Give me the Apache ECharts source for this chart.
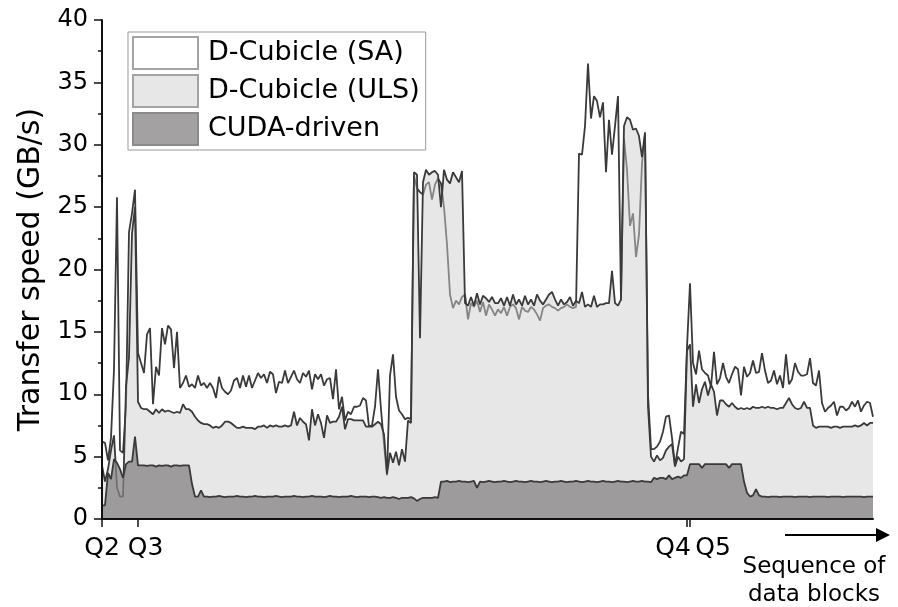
<!DOCTYPE html>
<html>
<head>
<meta charset="utf-8">
<script src="https://cdn.jsdelivr.net/npm/echarts@6/dist/echarts.min.js"></script>
<style>
html, body { margin: 0; padding: 0; background: #fff; }
#chart { width: 898px; height: 607px; }
</style>
</head>
<body>
<div id="chart"></div>
<script>
// ---- data (transfer speed in GB/s, one value per data block) ----
const saSpeed = [
  6.2,6.1,4.7,6.5,12.0,25.8,5.5,5.3,9.0,23.0,
  24.5,26.4,13.3,12.5,11.7,14.8,15.3,9.2,12.2,11.5,
  15.3,14.0,15.5,15.2,12.1,15.0,10.5,10.9,11.5,10.6,
  10.8,10.5,11.5,10.7,10.9,10.5,10.9,10.5,9.7,11.4,
  10.5,10.2,10.0,10.3,11.1,11.3,10.5,11.5,10.6,11.5,
  10.5,11.1,11.7,11.3,11.6,10.9,11.8,11.6,10.1,11.0,
  10.9,11.9,10.9,11.4,11.9,11.2,10.9,11.7,11.4,11.9,
  10.4,11.6,11.2,11.6,10.7,11.2,11.3,9.6,12.0,8.8,
  9.8,7.9,8.6,8.4,9.0,9.0,9.1,9.7,9.5,7.4,
  7.5,9.0,12.0,8.8,6.0,3.5,11.5,13.2,9.8,8.7,
  8.4,8.0,8.1,8.0,27.5,26.5,26.2,26.0,26.8,27.0,
  25.6,26.8,27.3,26.9,25.0,22.0,18.0,16.9,17.5,17.2,
  17.8,18.0,16.0,17.3,17.0,17.5,16.6,17.4,16.3,17.2,
  16.8,16.3,16.8,16.5,17.0,16.3,17.0,17.2,16.9,16.0,
  17.0,16.7,16.6,17.0,16.8,16.4,15.9,16.9,17.1,17.2,
  17.0,16.9,16.7,16.9,17.0,17.2,17.0,16.9,17.0,29.3,
  29.2,31.5,36.5,32.1,33.9,33.5,32.2,33.4,27.8,32.0,
  29.2,31.5,33.9,17.5,30.5,28.0,23.5,24.5,21.0,22.8,
  28.5,30.8,10.0,5.6,5.6,5.8,6.2,7.0,8.2,8.3,
  6.5,4.3,5.7,7.0,6.8,13.8,18.9,12.5,11.6,13.5,
  12.0,11.7,11.5,10.6,13.4,10.8,11.3,12.5,11.4,10.9,
  11.6,12.2,12.0,9.9,12.2,11.4,11.7,12.7,11.7,11.8,
  13.3,11.9,10.9,11.1,11.9,10.8,11.5,10.5,13.2,10.8,
  11.2,12.5,11.8,11.5,11.5,11.6,12.9,10.9,10.7,11.9,
  9.3,8.6,8.9,9.1,9.4,8.3,9.0,9.0,8.7,8.9,
  9.4,9.0,9.5,8.6,9.1,9.4,9.3,8.2
];
const ulsSpeed = [
  4.3,3.0,4.0,5.5,6.7,2.5,1.8,1.8,10.6,13.0,
  22.9,25.0,9.4,8.9,8.8,8.8,8.6,8.4,8.8,8.5,
  8.8,8.6,8.7,8.6,8.5,8.6,8.5,9.2,8.8,8.8,
  8.6,8.2,7.9,7.7,7.6,7.6,7.5,7.3,7.4,7.3,
  7.5,7.8,7.8,7.7,7.5,7.3,7.3,7.4,7.3,7.3,
  7.3,7.2,7.4,7.4,7.5,7.3,7.5,7.4,7.5,7.4,
  7.4,7.5,7.4,7.5,8.6,7.5,8.1,7.8,7.6,6.3,
  8.8,7.5,8.4,7.7,6.5,8.3,7.7,7.8,7.8,8.2,
  9.0,7.2,8.0,8.0,7.9,7.9,7.9,7.9,7.4,7.4,
  7.4,7.6,7.8,7.6,6.8,3.6,5.3,4.5,5.4,4.3,
  5.6,4.6,7.9,7.7,27.8,27.6,14.5,27.0,28.0,27.6,
  27.8,27.9,27.6,25.0,28.0,27.2,26.9,27.8,27.4,27.0,
  27.9,17.3,17.1,17.8,17.1,18.1,17.2,17.9,17.7,17.4,
  17.8,17.3,17.3,17.7,17.1,17.8,17.1,18.0,17.2,17.6,
  17.1,17.9,17.2,17.6,17.1,18.0,17.5,17.2,17.6,18.0,
  18.2,17.6,17.1,17.6,17.2,17.4,17.8,17.1,17.5,17.3,
  18.2,17.0,17.2,17.0,17.9,17.0,17.2,17.2,17.3,17.3,
  19.9,17.3,17.1,17.6,31.5,32.2,32.0,31.2,31.3,30.7,
  29.0,31.0,9.0,5.0,4.6,5.1,4.7,4.9,5.5,5.8,
  6.0,4.2,5.0,4.6,4.8,13.5,14.0,9.0,10.8,9.3,
  10.4,11.0,9.9,10.8,10.2,8.3,9.5,9.5,9.2,9.0,
  9.3,9.0,8.8,8.9,8.8,8.9,8.8,9.0,8.9,8.9,
  9.0,8.9,9.0,8.9,8.9,8.8,8.9,8.9,9.3,9.7,
  9.2,8.9,8.8,8.9,9.4,8.9,8.9,7.5,7.3,7.4,
  7.4,7.4,7.4,7.3,7.4,7.4,7.3,7.4,7.4,7.4,
  7.4,7.5,7.4,7.5,7.7,7.5,7.7,7.7
];
const cudaSpeed = [
  1.1,1.1,3.7,3.2,4.8,4.5,4.0,3.3,4.4,4.6,
  4.6,6.6,4.3,4.3,4.3,4.25,4.3,4.3,4.2,4.3,
  4.25,4.3,4.3,4.2,4.3,4.3,4.25,4.3,4.3,4.3,
  2.8,1.8,1.8,2.3,1.8,1.8,1.75,1.8,1.8,1.85,
  1.8,1.75,1.8,1.8,1.8,1.85,1.8,1.8,1.75,1.8,
  1.8,1.85,1.8,1.8,1.75,1.8,1.8,1.8,1.85,1.8,
  1.75,1.8,1.8,1.8,1.85,1.8,1.8,1.75,1.8,1.8,
  1.85,1.8,1.8,1.8,1.75,1.8,1.85,1.8,1.8,1.75,
  1.8,1.8,1.8,1.85,1.8,1.75,1.8,1.8,1.8,1.75,
  1.8,1.8,1.75,1.7,1.75,1.7,1.7,1.75,1.7,1.6,
  1.7,1.7,1.7,1.75,1.65,1.45,1.6,1.7,1.7,1.7,
  1.7,1.75,1.7,3.0,3.0,3.05,2.95,3.0,3.0,3.05,
  3.0,3.0,2.95,3.0,3.05,2.5,3.0,2.95,3.0,3.05,
  3.0,2.95,3.0,3.0,3.05,3.0,2.95,3.0,3.05,3.0,
  3.0,2.95,3.0,3.05,3.0,3.0,2.95,3.0,3.05,3.0,
  2.95,3.0,3.0,3.05,3.0,2.95,3.0,3.0,3.05,3.0,
  2.95,3.0,3.05,3.0,3.0,2.95,3.0,3.05,3.0,3.0,
  2.95,3.0,3.05,3.0,3.0,2.95,3.0,3.05,3.0,3.0,
  3.05,3.0,3.0,2.95,3.3,3.2,3.3,3.3,3.2,3.5,
  3.2,3.3,3.4,3.3,3.5,3.5,4.4,4.4,4.4,4.4,
  4.1,4.4,4.4,4.4,4.4,4.4,4.4,4.4,4.4,4.1,
  4.4,4.4,4.4,4.4,3.0,2.1,1.8,1.9,2.4,1.9,
  1.8,1.8,1.75,1.8,1.8,1.8,1.75,1.8,1.8,1.8,
  1.8,1.75,1.8,1.8,1.8,1.8,1.75,1.8,1.8,1.8,
  1.8,1.8,1.75,1.8,1.8,1.8,1.8,1.75,1.8,1.8,
  1.8,1.8,1.8,1.8,1.75,1.8,1.8,1.8
];
const seriesNames = ['D-Cubicle (SA)', 'D-Cubicle (ULS)', 'CUDA-driven'];
const qTickIndex = [0, 12, 195, 196];
const qTickLabels = ['Q2', 'Q3', 'Q4', 'Q5'];
const yMin = 0, yMax = 40, yInterval = 5;

// ---- layout / style ----
const FONT = 'DejaVu Sans';
const INK = '#111';
const LINE = '#3a3a3a';
const blocks = saSpeed.map((_, i) => i);
const qLabelPadding = [[0, 0, 0, 0], [0, 0, 0, 15], [0, 28, 0, 0], [0, 0, 0, 46]];
const qRich = {};
qTickLabels.forEach((_, k) => {
  qRich['q' + k] = { fontSize: 25, fontFamily: FONT, color: '#000', padding: qLabelPadding[k] };
});
const isQTick = (idx) => qTickIndex.indexOf(idx) >= 0;

const chart = echarts.init(document.getElementById('chart'), null, { renderer: 'canvas' });
chart.setOption({
  animation: false,
  backgroundColor: '#fff',
  grid: { left: 102, right: 25, top: 20, bottom: 88, containLabel: false, outerBoundsMode: 'none' },
  legend: {
    orient: 'vertical', left: 128, top: 32,
    padding: [4, 6, 4, 4], itemGap: 4, itemWidth: 65, itemHeight: 32,
    borderColor: '#999', borderWidth: 1, backgroundColor: '#fff',
    selectedMode: false, z: 20,
    textStyle: { fontSize: 27, fontFamily: FONT, color: '#000', padding: [0, 0, 0, 5] },
    data: [
      { name: seriesNames[0], icon: 'rect', itemStyle: { color: '#ffffff', borderColor: '#a3a3a3', borderWidth: 2 } },
      { name: seriesNames[1], icon: 'rect', itemStyle: { color: '#e8e7e8', borderColor: '#a3a3a3', borderWidth: 2 } },
      { name: seriesNames[2], icon: 'rect', itemStyle: { color: '#a3a1a2', borderColor: '#8a8a8a', borderWidth: 2 } }
    ]
  },
  xAxis: {
    type: 'category', data: blocks, boundaryGap: false, z: 10,
    axisLine: { show: true, lineStyle: { color: INK, width: 2 } },
    axisTick: { show: true, length: 8, interval: (i) => isQTick(i), lineStyle: { color: INK, width: 1.5 } },
    axisLabel: {
      show: true, margin: 17, interval: (i) => isQTick(i),
      formatter: (v, i) => { const k = qTickIndex.indexOf(i); return k < 0 ? '' : '{q' + k + '|' + qTickLabels[k] + '}'; },
      rich: qRich, fontSize: 25, fontFamily: FONT, color: '#000'
    },
    splitLine: { show: false }
  },
  yAxis: {
    type: 'value', min: yMin, max: yMax, interval: yInterval, z: 10,
    name: 'Transfer speed (GB/s)', nameLocation: 'middle', nameGap: 54, nameRotate: 90,
    nameTextStyle: { fontSize: 30, fontFamily: FONT, color: '#000' },
    axisLine: { show: true, lineStyle: { color: INK, width: 2 } },
    axisTick: { show: true, length: 8, lineStyle: { color: INK, width: 1.5 } },
    minorTick: { show: true, splitNumber: 2, length: 4, lineStyle: { color: INK, width: 1.5 } },
    axisLabel: { fontSize: 24, fontFamily: FONT, color: '#000', margin: 14 },
    splitLine: { show: false }, minorSplitLine: { show: false }
  },
  series: [
    {
      name: seriesNames[0], type: 'line', data: saSpeed, z: 2, symbol: 'none', silent: true,
      lineStyle: { color: LINE, width: 1.8 }, itemStyle: { color: '#ffffff' },
      areaStyle: { color: '#ffffff', opacity: 1 }
    },
    {
      name: seriesNames[1], type: 'line', data: ulsSpeed, z: 3, symbol: 'none', silent: true,
      lineStyle: { color: LINE, width: 1.8 }, itemStyle: { color: '#e8e7e8' },
      areaStyle: { color: 'rgb(209,207,209)', opacity: 0.5 }
    },
    {
      name: seriesNames[2], type: 'line', data: cudaSpeed, z: 4, symbol: 'none', silent: true,
      lineStyle: { color: LINE, width: 1.8 }, itemStyle: { color: '#a3a1a2' },
      areaStyle: { color: 'rgb(133,130,132)', opacity: 0.75 }
    }
  ],
  graphic: [
    { type: 'line', silent: true, shape: { x1: 785, y1: 535, x2: 878, y2: 535 }, style: { stroke: '#000', lineWidth: 2 } },
    { type: 'polygon', silent: true, shape: { points: [[876, 528], [890, 535], [876, 542]] }, style: { fill: '#000' } },
    { type: 'text', silent: true, x: 814, y: 553,
      style: { text: 'Sequence of\ndata blocks', fontSize: 23, fontFamily: FONT, fill: '#000', align: 'center', verticalAlign: 'top', lineHeight: 28 } }
  ]
});
</script>
</body>
</html>
